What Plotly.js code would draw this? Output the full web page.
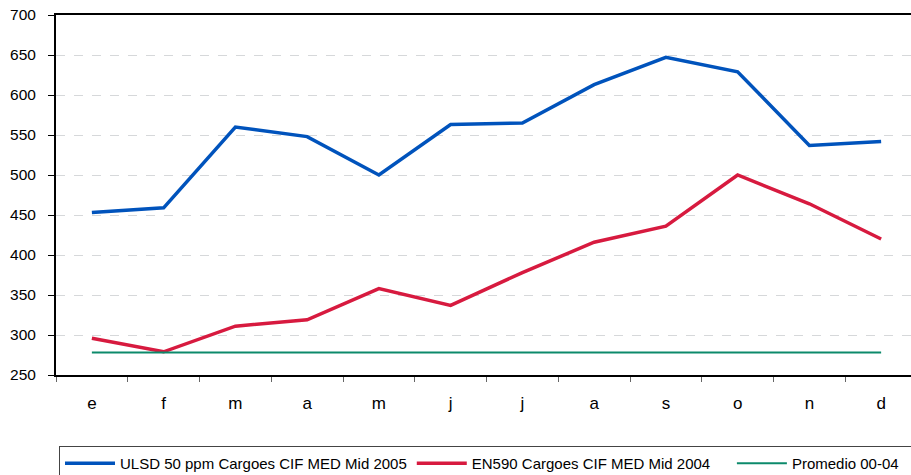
<!DOCTYPE html>
<html>
<head>
<meta charset="utf-8">
<script src="https://cdn.plot.ly/plotly-3.0.1.min.js"></script>
<style>
html,body{margin:0;padding:0;overflow:hidden;background:#fff;width:911px;height:475px;}
#chart{width:920px;height:475px;}
</style>
</head>
<body>
<div id="chart"></div>
<script>
const months = ['e','f','m','a','m ','j','j ','a ','s','o','n','d'];
const monthLabels = ['e','f','m','a','m','j','j','a','s','o','n','d'];
const ulsd = [453, 459, 560, 548, 500, 563, 565, 613, 647, 629, 537, 542];
const en590 = [296, 279, 311, 319, 358, 337, 378, 416, 436, 500, 464, 420];
const promedio = [278, 278, 278, 278, 278, 278, 278, 278, 278, 278, 278, 278];
const names = ['ULSD 50 ppm Cargoes CIF MED Mid 2005', 'EN590 Cargoes CIF MED Mid 2004\u00A0\u00A0\u00A0\u00A0', 'Promedio 00-04\u00A0\u00A0\u00A0'];

const font = 'Liberation Sans, Arial, sans-serif';
const W = 920, H = 475;

const traces = [
  {x: months, y: ulsd, name: names[0], type: 'scatter', mode: 'lines', line: {color: '#0053BC', width: 3.5}},
  {x: months, y: en590, name: names[1], type: 'scatter', mode: 'lines', line: {color: '#D71A3F', width: 3.5}},
  {x: months, y: promedio, name: names[2], type: 'scatter', mode: 'lines', line: {color: '#0C8A6B', width: 2}}
];

const layout = {
  width: W, height: H,
  margin: {l: 56, r: 3, t: 15, b: 100},
  paper_bgcolor: '#fff', plot_bgcolor: '#fff',
  font: {family: font, size: 15, color: '#000'},
  showlegend: true,
  legend: {
    orientation: 'h',
    xref: 'container', yref: 'container',
    x: 59 / W, y: 1 - 446 / H, xanchor: 'left', yanchor: 'top',
    bordercolor: '#444', borderwidth: 1, bgcolor: '#fff',
    font: {family: font, size: 15, color: '#000'},
    itemwidth: 50,
    traceorder: 'normal'
  },
  xaxis: {
    type: 'category',
    tickvals: months, ticktext: monthLabels,
    range: [-0.5, 11.5],
    showline: true, linecolor: '#000', linewidth: 2, mirror: true,
    ticks: 'outside', tickson: 'boundaries', ticklen: 5, tickcolor: '#666', tickwidth: 1,
    ticklabelstandoff: 12,
    showgrid: false, zeroline: false,
    tickfont: {family: font, size: 17, color: '#000'}
  },
  yaxis: {
    range: [250, 700], dtick: 50, tick0: 250,
    showline: true, linecolor: '#000', linewidth: 2,
    ticks: 'outside', ticklen: 6, tickcolor: '#000', tickwidth: 1,
    ticklabelstandoff: 9,
    showgrid: true, gridcolor: '#d6d8da', griddash: 'dash', gridwidth: 1,
    zeroline: false,
    tickfont: {family: font, size: 15.5, color: '#000'}
  }
};

Plotly.newPlot('chart', traces, layout, {displayModeBar: false, staticPlot: true});
</script>
</body>
</html>
